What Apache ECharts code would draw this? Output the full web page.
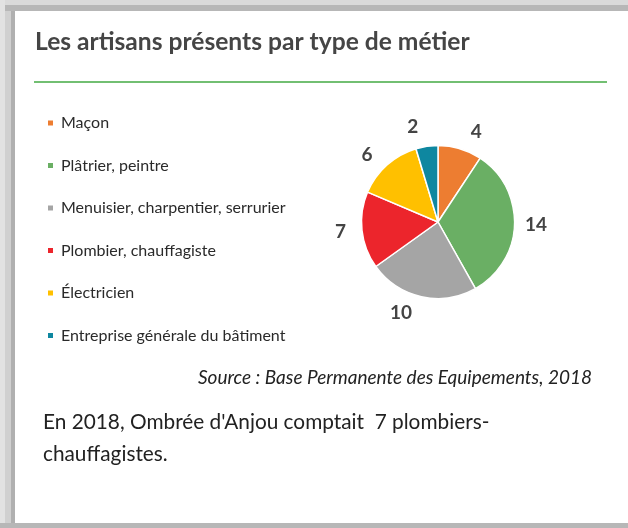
<!DOCTYPE html>
<html>
<head>
<meta charset="utf-8">
<script src="https://cdn.jsdelivr.net/npm/echarts@6/dist/echarts.min.js"></script>
<style>
  html, body { margin: 0; padding: 0; background: #fff; }
  #chart { width: 628px; height: 528px; }
</style>
</head>
<body>
<div id="chart"></div>
<script>
var metiers = ['Maçon', 'Plâtrier, peintre', 'Menuisier, charpentier, serrurier',
    'Plombier, chauffagiste', 'Électricien', 'Entreprise générale du bâtiment'];
var effectifs = [4, 14, 10, 7, 6, 2];
var couleurs = ['#ED7D31', '#6AAF64', '#A5A5A5', '#EC252C', '#FFC000', '#0E87A0'];

var titre = 'Les artisans présents par type de métier';
var source = 'Source : Base Permanente des Equipements, 2018';
var commentaire = ["En 2018, Ombrée d'Anjou comptait  7 plombiers-", 'chauffagistes.'];

var police = 'Lato, "Noto Sans", sans-serif';
var centre = [438, 222];
var rayon = 76.5;
var distLabel = 98; // distance du centre du camembert au centre des étiquettes

var chart = echarts.init(document.getElementById('chart'));

var pieData = [];
for (var i = 0; i < metiers.length; i++) {
    pieData.push({ name: metiers[i], value: effectifs[i], itemStyle: { color: couleurs[i] } });
}

chart.setOption({
    animation: false,
    backgroundColor: '#fff',
    textStyle: { fontFamily: police },
    title: {
        text: titre,
        left: 30,
        top: 25,
        textStyle: { fontFamily: police, fontSize: 24.6, fontWeight: 'bold', color: '#454545' }
    },
    legend: {
        orient: 'vertical',
        left: 41,
        top: 110,
        icon: 'rect',
        itemWidth: 7,
        itemHeight: 7,
        itemGap: 26.5,
        data: metiers,
        textStyle: { fontFamily: police, fontSize: 16, color: '#2a2a2a', padding: [0, 0, 0, 2] }
    },
    graphic: [
        // ombre du cadre
        { type: 'rect', shape: { x: 0, y: 0, width: 628, height: 5 }, style: { fill: '#dadada' } },
        { type: 'rect', shape: { x: 0, y: 5, width: 628, height: 6 }, style: { fill: '#b7b7b7' } },
        { type: 'rect', shape: { x: 0, y: 0, width: 5, height: 528 }, style: { fill: '#e2e2e2' } },
        { type: 'rect', shape: { x: 5, y: 11, width: 6, height: 517 }, style: { fill: '#d0d0d0' } },
        { type: 'rect', shape: { x: 11, y: 11, width: 4, height: 517 }, style: { fill: '#b0b0b0' } },
        { type: 'rect', shape: { x: 0, y: 523, width: 628, height: 5 }, style: { fill: '#b7b7b7' } },
        // trait vert sous le titre
        { type: 'rect', shape: { x: 34, y: 81, width: 573, height: 2 }, style: { fill: '#72BF72' } },
        {
            type: 'text', x: 592, y: 378,
            style: { text: source, fontFamily: police, fontStyle: 'italic', fontSize: 19,
                fill: '#222', align: 'right', verticalAlign: 'middle' }
        },
        {
            type: 'text', x: 43, y: 422,
            style: { text: commentaire[0], fontFamily: police, fontSize: 20.8,
                fill: '#222', verticalAlign: 'middle' }
        },
        {
            type: 'text', x: 43, y: 454,
            style: { text: commentaire[1], fontFamily: police, fontSize: 20.8,
                fill: '#222', verticalAlign: 'middle' }
        }
    ],
    series: [{
        type: 'pie',
        center: centre,
        radius: rayon,
        startAngle: 90,
        clockwise: true,
        itemStyle: { borderColor: '#fff', borderWidth: 1.5 },
        label: {
            show: true,
            position: 'outside',
            formatter: '{c}',
            fontFamily: police,
            fontSize: 19,
            fontWeight: 'bold',
            color: '#444'
        },
        labelLine: { show: false, length: 13, length2: 0 },
        // recentre chaque étiquette sur la direction de sa part
        labelLayout: function (params) {
            var r = params.labelRect;
            var dx = r.x + r.width / 2 - centre[0];
            var dy = r.y + r.height / 2 - centre[1];
            var d = Math.sqrt(dx * dx + dy * dy) || 1;
            return {
                x: centre[0] + dx / d * distLabel,
                y: centre[1] + dy / d * distLabel,
                align: 'center',
                verticalAlign: 'middle'
            };
        },
        emphasis: { disabled: true },
        data: pieData
    }]
});
</script>
</body>
</html>
